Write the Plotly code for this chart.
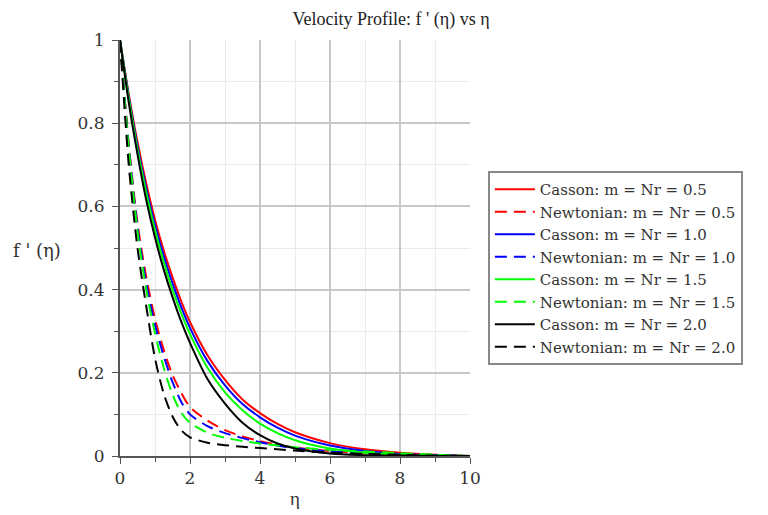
import plotly.graph_objects as go

eta = [0, 0.25, 0.5, 0.75, 1, 1.25, 1.5, 1.75, 2, 2.5, 3, 3.5, 4, 4.5, 5, 6, 7, 8, 9, 10]

casson_05 = [1, 0.87, 0.755, 0.655, 0.568, 0.494, 0.43, 0.372, 0.322, 0.242, 0.183, 0.136, 0.103, 0.077, 0.057, 0.031, 0.016, 0.008, 0.003, 0]
newton_05 = [1, 0.75, 0.56, 0.43, 0.33, 0.255, 0.195, 0.152, 0.118, 0.085, 0.062, 0.047, 0.036, 0.027, 0.02, 0.012, 0.007, 0.004, 0.002, 0]
casson_10 = [1, 0.865, 0.745, 0.643, 0.555, 0.48, 0.415, 0.358, 0.308, 0.228, 0.17, 0.125, 0.093, 0.068, 0.049, 0.025, 0.012, 0.005, 0.002, 0]
newton_10 = [1, 0.745, 0.55, 0.415, 0.315, 0.24, 0.178, 0.13, 0.1, 0.072, 0.055, 0.043, 0.033, 0.025, 0.019, 0.011, 0.006, 0.003, 0.001, 0]
casson_15 = [1, 0.86, 0.737, 0.633, 0.543, 0.466, 0.4, 0.343, 0.293, 0.212, 0.153, 0.11, 0.078, 0.055, 0.038, 0.018, 0.008, 0.003, 0.001, 0]
newton_15 = [1, 0.74, 0.54, 0.4, 0.295, 0.212, 0.148, 0.104, 0.08, 0.056, 0.044, 0.036, 0.03, 0.025, 0.021, 0.015, 0.011, 0.007, 0.003, 0]
casson_20 = [1, 0.85, 0.725, 0.615, 0.525, 0.448, 0.382, 0.323, 0.272, 0.185, 0.126, 0.08, 0.05, 0.03, 0.018, 0.006, 0.002, 0.001, 0, 0]
newton_20 = [1, 0.7, 0.5, 0.36, 0.235, 0.15, 0.095, 0.062, 0.045, 0.032, 0.026, 0.022, 0.019, 0.016, 0.013, 0.008, 0.005, 0.003, 0.001, 0]

series = [
    ("Casson: m = Nr = 0.5", casson_05, "#ff0000", "solid"),
    ("Newtonian: m = Nr = 0.5", newton_05, "#ff0000", "12px,7px"),
    ("Casson: m = Nr = 1.0", casson_10, "#0000ff", "solid"),
    ("Newtonian: m = Nr = 1.0", newton_10, "#0000ff", "12px,7px"),
    ("Casson: m = Nr = 1.5", casson_15, "#00ff00", "solid"),
    ("Newtonian: m = Nr = 1.5", newton_15, "#00ff00", "12px,7px"),
    ("Casson: m = Nr = 2.0", casson_20, "#000000", "solid"),
    ("Newtonian: m = Nr = 2.0", newton_20, "#000000", "12px,7px"),
]

fig = go.Figure()
for name, vals, color, dash in series:
    fig.add_trace(go.Scatter(
        x=eta, y=vals, mode="lines", name=name,
        line=dict(color=color, width=2, dash=dash, shape="spline", smoothing=0.8),
    ))

serif = "DejaVu Serif"
axis_common = dict(
    showline=True, linecolor="#555555", linewidth=2,
    ticks="outside", ticklen=6, tickcolor="#555555", tickwidth=1,
    gridcolor="#c8c8c8", gridwidth=1.5,
    tickfont=dict(family=serif, size=17, color="#333333"),
    zeroline=False, mirror=False,
)

fig.update_xaxes(range=[0, 10], dtick=2, tick0=0,
                 minor=dict(dtick=1, showgrid=True, gridcolor="#ebebeb", gridwidth=1,
                            ticks="outside", ticklen=4, tickcolor="#555555"),
                 **axis_common)
fig.update_yaxes(range=[0, 1], dtick=0.2, tick0=0, ticklabelstandoff=4,
                 minor=dict(dtick=0.1, showgrid=True, gridcolor="#ebebeb", gridwidth=1,
                            ticks="outside", ticklen=4, tickcolor="#555555"),
                 **axis_common)

fig.update_layout(
    width=760, height=507,
    margin=dict(l=112, r=298, t=32, b=59),
    paper_bgcolor="white", plot_bgcolor="white",
    title=dict(text="Velocity Profile: f ' (η) vs η", x=0.504, xanchor="center",
               y=0.978, yanchor="middle", xref="container", yref="container",
               font=dict(family="Liberation Serif", size=18, color="#222222")),
    legend=dict(x=1.051, y=0.685, xanchor="left", yanchor="top",
                bordercolor="#888888", borderwidth=2, bgcolor="white",
                font=dict(family=serif, size=15, color="#333333"),
                tracegroupgap=0, itemwidth=40),
    showlegend=True,
    annotations=[
        dict(text="f ' (η)", x=-0.237, y=0.495, xref="paper", yref="paper",
             showarrow=False, xanchor="center", yanchor="middle",
             font=dict(family=serif, size=18, color="#333333")),
        dict(text="η", x=0.5, y=-0.101, xref="paper", yref="paper",
             showarrow=False, xanchor="center", yanchor="middle",
             font=dict(family="Liberation Serif", size=19, color="#333333")),
    ],
)

fig.write_html("out.html")
